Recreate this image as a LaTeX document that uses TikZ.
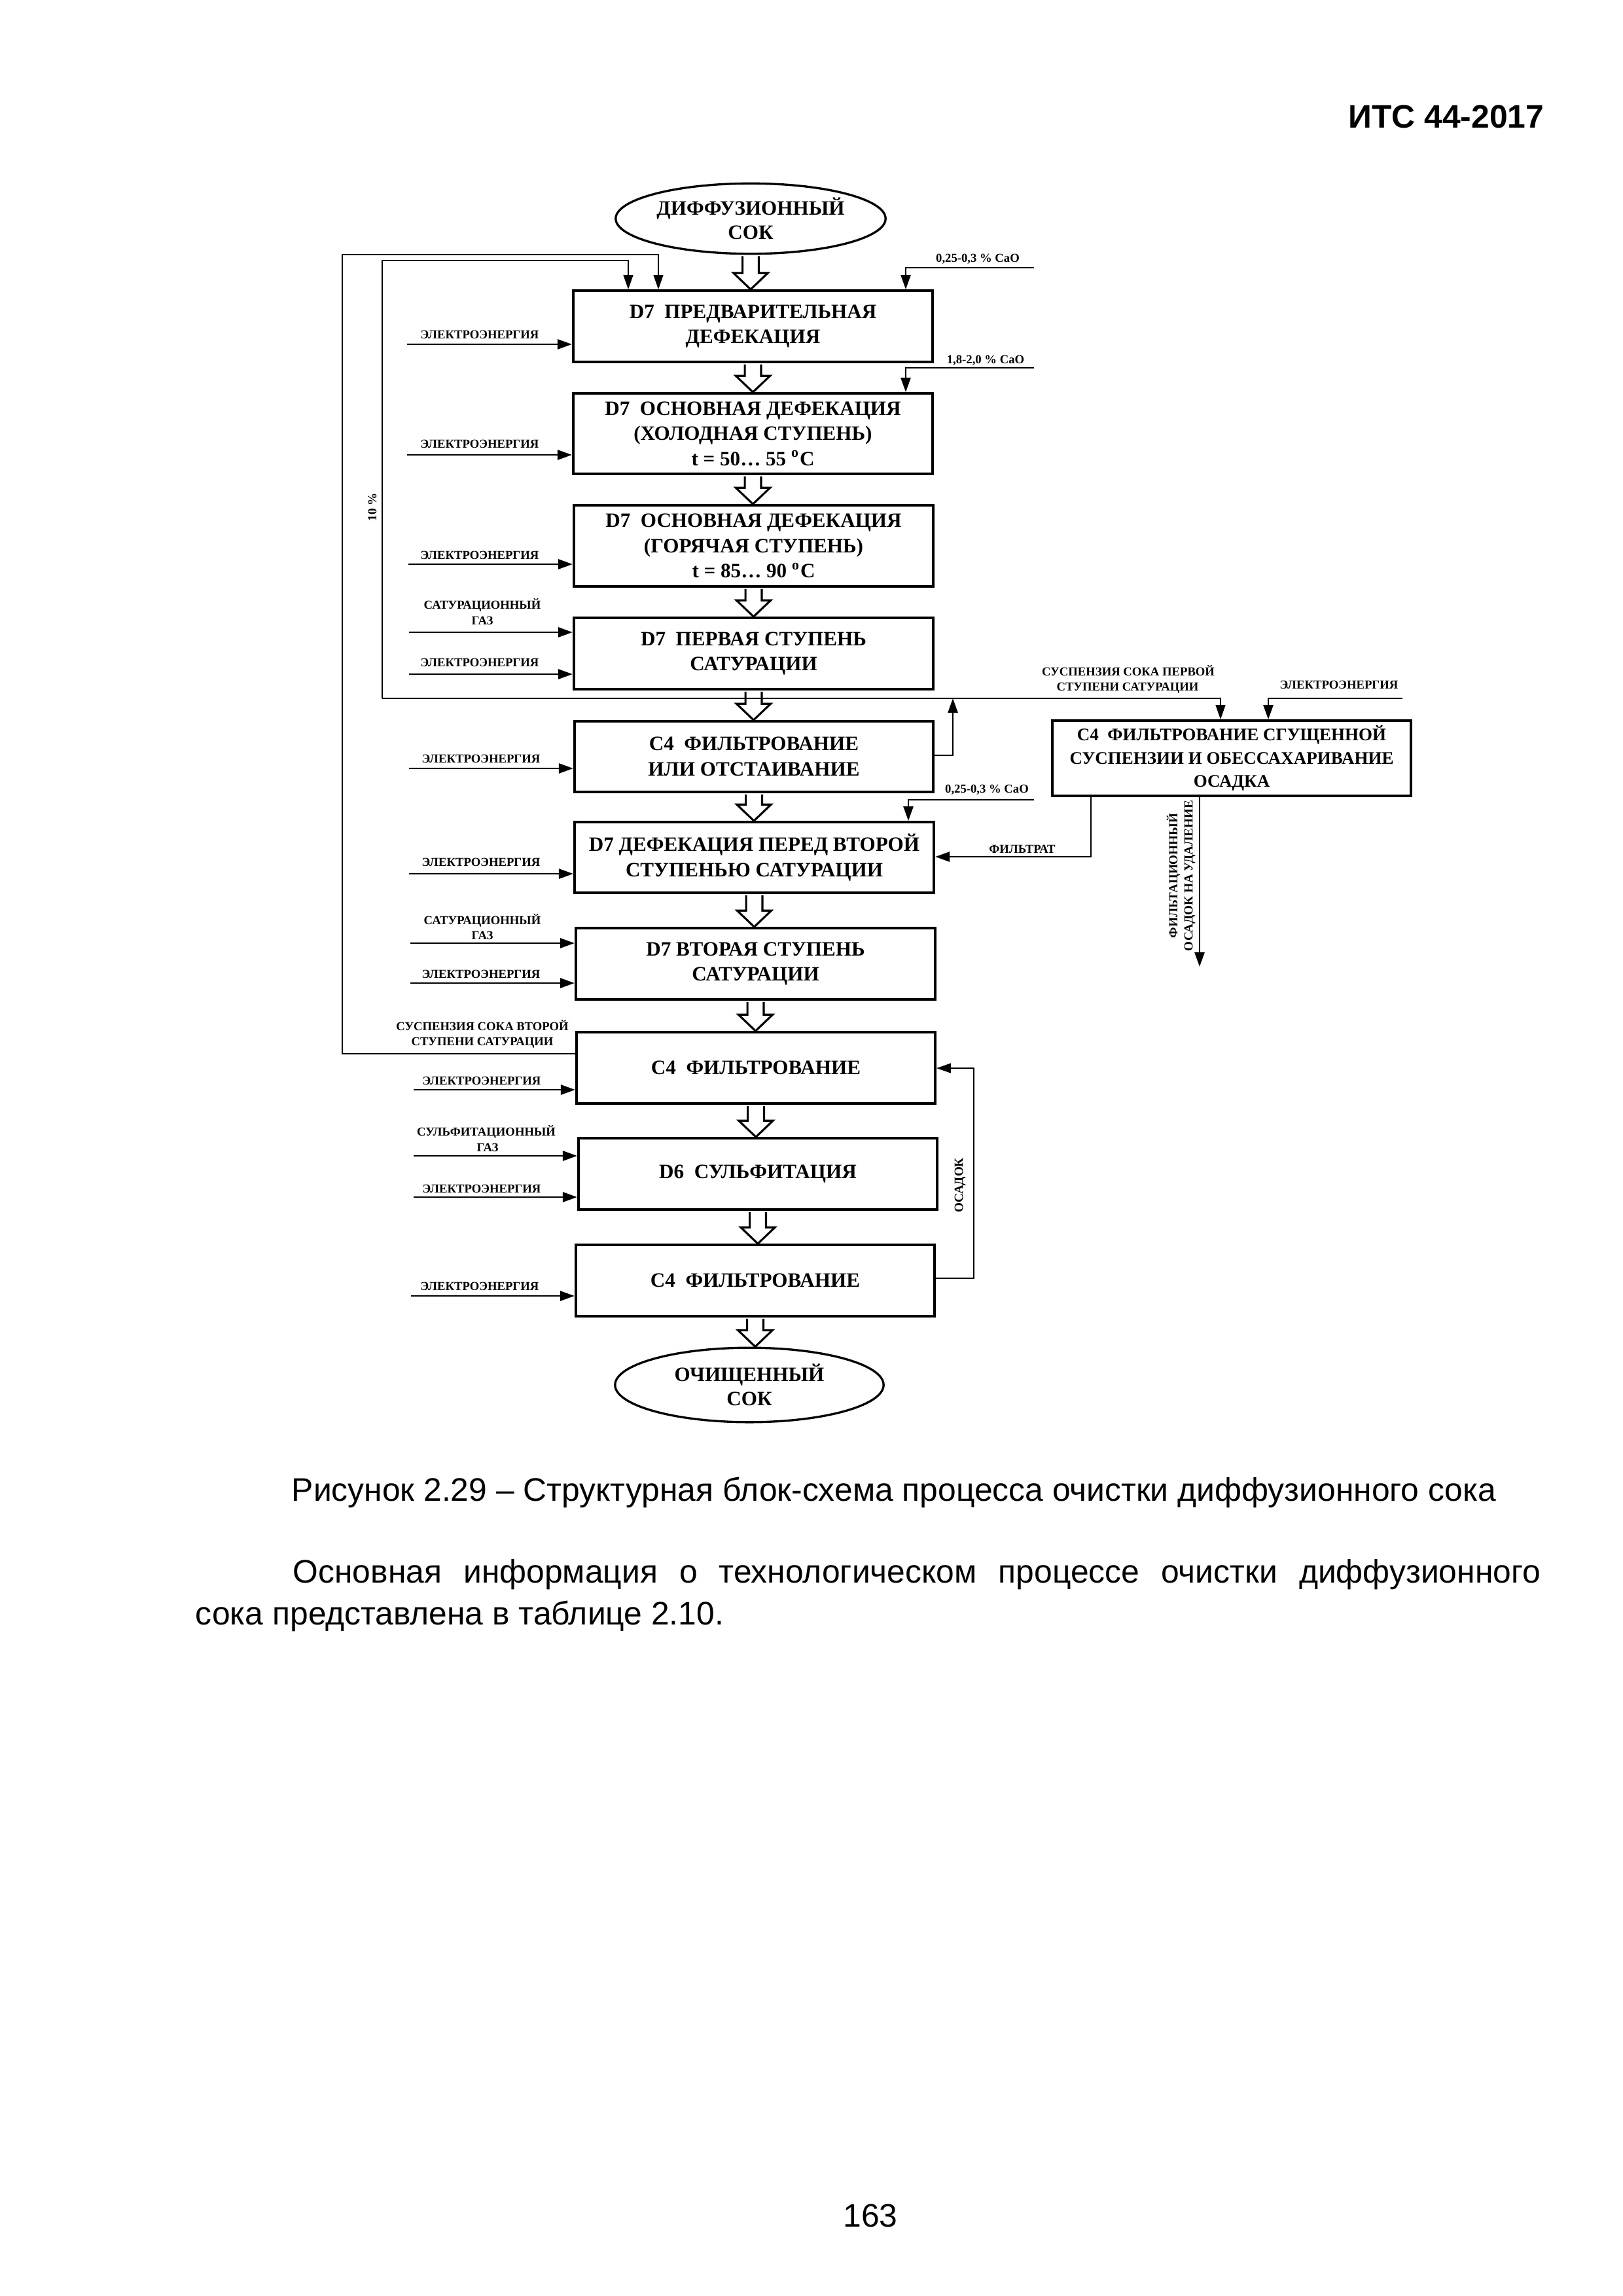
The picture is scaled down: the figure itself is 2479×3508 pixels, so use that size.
\documentclass[tikz,border=0pt]{standalone}
\usepackage{fontspec}
\setmainfont{Liberation Serif}
\newfontfamily\sansf{Liberation Sans}
\usetikzlibrary{arrows.meta,calc,shapes.geometric}

\newcommand\pbox[6]{%
  \pgfmathsetmacro\cx{(#2+#4)/2}\pgfmathsetmacro\cy{(#3+#5)/2}%
  \pgfmathsetmacro\ww{(#4-#2)*0.24015}\pgfmathsetmacro\hh{(#5-#3)*0.24015}%
  \node[box,minimum width=\ww pt,minimum height=\hh pt] (#1) at (\cx,\cy) {#6};}
\newcommand\harrow[2]{%
  \draw[hollow] let \p1=(#1.south), \p2=(#2.north) in
   (\x1-3pt,\y1-0.5pt) -- (\x1-3pt,\y2+6pt) -- (\x1-6.3pt,\y2+6pt) -- (\x1,\y2)
   -- (\x1+6.3pt,\y2+6pt) -- (\x1+3pt,\y2+6pt) -- (\x1+3pt,\y1-0.5pt);}

\begin{document}
\begin{tikzpicture}[x=0.084712mm,y=-0.084712mm,
  >={Triangle[length=5.3pt,width=3.6pt]},
  box/.style={draw,line width=1pt,fill=white,inner sep=0pt,align=center,
     font=\bfseries\fontsize{7.5}{9.3}\selectfont},
  ell/.style={ellipse,draw,line width=0.8pt,fill=white,inner sep=0pt,align=center,
     font=\bfseries\fontsize{7.5}{9}\selectfont},
  lbl/.style={inner sep=0pt,font=\bfseries\fontsize{4.5}{5.5}\selectfont,anchor=base},
  rlbl/.style={inner sep=0pt,font=\bfseries\fontsize{4.6}{5.5}\selectfont,rotate=90,anchor=center},
  power/.style={line width=0.7pt,->},
  thinl/.style={line width=0.35pt},
  medl/.style={line width=0.65pt},
  hollow/.style={line width=0.75pt,fill=white},
  body/.style={inner sep=0pt,font=\sansf\fontsize{12}{14}\selectfont,anchor=base west},
]
\useasboundingbox (0,0) rectangle (2479,3508);
\fill[white] (0,0) rectangle (2479,3508);

% ---------- page texts
\node[body,anchor=base east,font=\sansf\bfseries\fontsize{12}{14}\selectfont] (hdr) at (2360,195) {ИТС 44-2017};
\node[body] (cap) at (445,2293) {Рисунок 2.29 – Структурная блок-схема процесса очистки диффузионного сока};
\node[body] (par1) at (447,2418) {\makebox[459.4pt][s]{Основная информация о технологическом процессе очистки диффузионного}};
\node[body] (par2) at (298,2482) {сока представлена в таблице 2.10.};
\node[body,anchor=base] (pg) at (1330,3402) {163};

% ---------- nodes
\node[ell,minimum width=99.4pt,minimum height=25.9pt] (E1) at (1147,334) {ДИФФУЗИОННЫЙ\\СОК};
\pbox{B1}{875}{444}{1426}{553}{D7\enspace ПРЕДВАРИТЕЛЬНАЯ\\ДЕФЕКАЦИЯ}
\pbox{B2}{875}{601}{1426}{724}{D7\enspace ОСНОВНАЯ ДЕФЕКАЦИЯ\\(ХОЛОДНАЯ СТУПЕНЬ)\\t = 50… 55 \textsuperscript{o}C}
\pbox{B3}{876}{772}{1427}{896}{D7\enspace ОСНОВНАЯ ДЕФЕКАЦИЯ\\(ГОРЯЧАЯ СТУПЕНЬ)\\t = 85… 90 \textsuperscript{o}C}
\pbox{B4}{876}{944}{1427}{1053}{D7\enspace ПЕРВАЯ СТУПЕНЬ\\САТУРАЦИИ}
\pbox{B5}{877}{1102}{1427}{1210}{C4\enspace ФИЛЬТРОВАНИЕ\\ИЛИ ОТСТАИВАНИЕ}
\pbox{B6}{877}{1256}{1428}{1364}{D7 ДЕФЕКАЦИЯ ПЕРЕД ВТОРОЙ\\СТУПЕНЬЮ САТУРАЦИИ}
\pbox{B7}{879}{1418}{1430}{1527}{D7 ВТОРАЯ СТУПЕНЬ\\САТУРАЦИИ}
\pbox{B8}{880}{1577}{1430}{1686}{C4\enspace ФИЛЬТРОВАНИЕ}
\pbox{B9}{883}{1739}{1433}{1848}{D6\enspace СУЛЬФИТАЦИЯ}
\pbox{B10}{879}{1902}{1429}{2011}{C4\enspace ФИЛЬТРОВАНИЕ}
\node[ell,minimum width=98.9pt,minimum height=27.4pt] (E2) at (1145,2116) {ОЧИЩЕННЫЙ\\СОК};
\begin{scope}[box/.append style={font=\bfseries\fontsize{6.5}{8.6}\selectfont}]
\pbox{S}{1607}{1101}{2157}{1216}{C4\enspace ФИЛЬТРОВАНИЕ СГУЩЕННОЙ\\СУСПЕНЗИИ И ОБЕССАХАРИВАНИЕ\\ОСАДКА}
\end{scope}

% ---------- main hollow arrows
\harrow{E1}{B1}
\harrow{B1}{B2}
\harrow{B2}{B3}
\harrow{B3}{B4}
\harrow{B4}{B5}
\harrow{B5}{B6}
\harrow{B6}{B7}
\harrow{B7}{B8}
\harrow{B8}{B9}
\harrow{B9}{B10}
\harrow{B10}{E2}

% ---------- left inputs
\coordinate (a1) at (622,526);  \draw[power] (a1) -- (a1 -| B1.west);
\node[lbl] (l1) at (733,517) {ЭЛЕКТРОЭНЕРГИЯ};
\coordinate (a2) at (622,695);  \draw[power] (a2) -- (a2 -| B2.west);
\node[lbl] (l2) at (733,684) {ЭЛЕКТРОЭНЕРГИЯ};
\coordinate (a3) at (624,862);  \draw[power] (a3) -- (a3 -| B3.west);
\node[lbl] (l3) at (733,854) {ЭЛЕКТРОЭНЕРГИЯ};
\coordinate (a4g) at (625,966); \draw[power] (a4g) -- (a4g -| B4.west);
\node[lbl] (l4a) at (737,930) {САТУРАЦИОННЫЙ};
\node[lbl] (l4b) at (737,954) {ГАЗ};
\coordinate (a4) at (625,1030); \draw[power] (a4) -- (a4 -| B4.west);
\node[lbl] (l4) at (733,1018) {ЭЛЕКТРОЭНЕРГИЯ};
\coordinate (a5) at (625,1174); \draw[power] (a5) -- (a5 -| B5.west);
\node[lbl] (l5) at (735,1165) {ЭЛЕКТРОЭНЕРГИЯ};
\coordinate (a6) at (625,1335); \draw[power] (a6) -- (a6 -| B6.west);
\node[lbl] (l6) at (735,1323) {ЭЛЕКТРОЭНЕРГИЯ};
\coordinate (a7g) at (627,1441); \draw[power] (a7g) -- (a7g -| B7.west);
\node[lbl] (l7a) at (737,1412) {САТУРАЦИОННЫЙ};
\node[lbl] (l7b) at (737,1435) {ГАЗ};
\coordinate (a7) at (627,1502); \draw[power] (a7) -- (a7 -| B7.west);
\node[lbl] (l7) at (735,1494) {ЭЛЕКТРОЭНЕРГИЯ};
\coordinate (a8) at (632,1665); \draw[power] (a8) -- (a8 -| B8.west);
\node[lbl] (l8) at (736,1657) {ЭЛЕКТРОЭНЕРГИЯ};
\coordinate (a9g) at (632,1766); \draw[power] (a9g) -- (a9g -| B9.west);
\node[lbl] (l9a) at (743,1735) {СУЛЬФИТАЦИОННЫЙ};
\node[lbl] (l9b) at (745,1759) {ГАЗ};
\coordinate (a9) at (632,1829); \draw[power] (a9) -- (a9 -| B9.west);
\node[lbl] (l9) at (736,1822) {ЭЛЕКТРОЭНЕРГИЯ};
\coordinate (a10) at (628,1980); \draw[power] (a10) -- (a10 -| B10.west);
\node[lbl] (l10) at (733,1971) {ЭЛЕКТРОЭНЕРГИЯ};

% ---------- CaO inputs
\coordinate (c1r) at (1580,409); \coordinate (c1l) at (1384,409);
\draw[medl,->] (c1r) -- (c1l) -- (c1l |- B1.north);
\node[lbl] (lc1) at (1494,400) {0,25-0,3 \% CaO};
\coordinate (c2r) at (1580,562); \coordinate (c2l) at (1384,562);
\draw[medl,->] (c2r) -- (c2l) -- (c2l |- B2.north);
\node[lbl] (lc2) at (1506,555) {1,8-2,0 \% CaO};
\coordinate (c6r) at (1580,1222); \coordinate (c6l) at (1388,1222);
\draw[medl,->] (c6r) -- (c6l) -- (c6l |- B6.north);
\node[lbl] (lc6) at (1508,1211) {0,25-0,3 \% CaO};

% ---------- recycle lines on the left
\coordinate (o1) at (523,1610); \coordinate (o2) at (523,389); \coordinate (o3) at (1006,389);
\draw[thinl,->] (B8.west |- o1) -- (o1) -- (o2) -- (o3) -- (o3 |- B1.north);
\node[lbl] (ls1) at (737,1574) {СУСПЕНЗИЯ СОКА ВТОРОЙ};
\node[lbl] (ls2) at (737,1597) {СТУПЕНИ САТУРАЦИИ};
\node[rlbl] (l10p) at (569,775) {10 \%};

\coordinate (jl) at (584,1067); \coordinate (i1) at (584,398); \coordinate (i2) at (960,398);
\coordinate (jr) at (1865,1067); \coordinate (j) at (1456,1067); \coordinate (j5) at (1456,1154);
\draw[thinl,->] (jl) -- (i1) -- (i2) -- (i2 |- B1.north);
\draw[thinl,->] (jl) -- (jr) -- (jr |- S.north);
\draw[medl,->] (B5.east |- j5) -- (j5) -- (j);

% ---------- side block connections
\node[lbl] (lsa) at (1724,1032) {СУСПЕНЗИЯ СОКА ПЕРВОЙ};
\node[lbl] (lsb) at (1723,1055) {СТУПЕНИ САТУРАЦИИ};
\coordinate (er) at (2143,1067); \coordinate (el) at (1938,1067);
\draw[medl,->] (er) -- (el) -- (el |- S.north);
\node[lbl] (lse) at (2046,1052) {ЭЛЕКТРОЭНЕРГИЯ};

\coordinate (f1) at (1667,1309);
\draw[medl,->] (S.south -| f1) -- (f1) -- (f1 -| B6.east);
\node[lbl] (lf) at (1562,1303) {ФИЛЬТРАТ};

\coordinate (k1) at (1833,1477);
\draw[medl,->] (S.south -| k1) -- (k1);
\node[rlbl] (lk1) at (1793,1338) {ФИЛЬТАЦИОННЫЙ};
\node[rlbl] (lk2) at (1818,1338) {ОСАДОК НА УДАЛЕНИЕ};

% ---------- sediment return
\coordinate (q1) at (1488,1953); \coordinate (q2) at (1488,1632);
\draw[thinl,->] (B10.east |- q1) -- (q1) -- (q2) -- (q2 -| B8.east);
\node[rlbl] (lq) at (1467,1811) {ОСАДОК};
\end{tikzpicture}
\end{document}
